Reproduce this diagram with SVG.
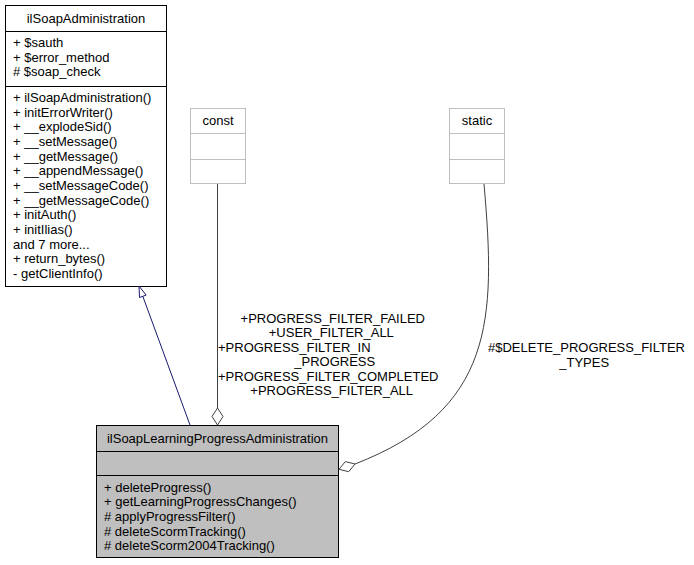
<svg xmlns="http://www.w3.org/2000/svg" width="694" height="565" viewBox="0 0 694 565">
<style>
text{font-family:"Liberation Sans",Arial,Helvetica,sans-serif;font-size:13px;fill:#000}
.c{text-anchor:middle}
.box{fill:#fff;stroke:#000;stroke-width:1}
.gbox{fill:#fff;stroke:#bfbfbf;stroke-width:1}
.main{fill:#bfbfbf;stroke:#000;stroke-width:1}
.use{fill:none;stroke:#404040;stroke-width:1}
.dia{fill:#fff;stroke:#404040;stroke-width:1}
.inh{fill:none;stroke:#191970;stroke-width:1}
</style>
<rect width="694" height="565" fill="#fff"/>
<g id="ilSoapAdministration">
<rect class="box" x="5.5" y="5.5" width="161" height="281"/>
<line x1="5.5" y1="31.5" x2="166.5" y2="31.5" stroke="#000"/>
<line x1="5.5" y1="86.5" x2="166.5" y2="86.5" stroke="#000"/>
<text class="c" x="86" y="22.5">ilSoapAdministration</text>
<text x="13" y="47">+ $sauth</text>
<text x="13" y="61.5">+ $error_method</text>
<text x="13" y="76">#  $soap_check</text>
<text x="13" y="102">+ ilSoapAdministration()</text>
<text x="13" y="116.7">+ initErrorWriter()</text>
<text x="13" y="131.3">+ __explodeSid()</text>
<text x="13" y="146">+ __setMessage()</text>
<text x="13" y="160.7">+ __getMessage()</text>
<text x="13" y="175.3">+ __appendMessage()</text>
<text x="13" y="190">+ __setMessageCode()</text>
<text x="13" y="204.7">+ __getMessageCode()</text>
<text x="13" y="219.3">+ initAuth()</text>
<text x="13" y="234">+ initIlias()</text>
<text x="13" y="248.7">and 7 more...</text>
<text x="13" y="263.3">+ return_bytes()</text>
<text x="13" y="278">- getClientInfo()</text>
</g>
<g id="const">
<rect class="gbox" x="190.5" y="108.5" width="55" height="75"/>
<line x1="190.5" y1="133.5" x2="245.5" y2="133.5" stroke="#bfbfbf"/>
<line x1="190.5" y1="159.5" x2="245.5" y2="159.5" stroke="#bfbfbf"/>
<text class="c" x="218" y="125">const</text>
</g>
<g id="static">
<rect class="gbox" x="449.5" y="108.5" width="55" height="75"/>
<line x1="449.5" y1="133.5" x2="504.5" y2="133.5" stroke="#bfbfbf"/>
<line x1="449.5" y1="159.5" x2="504.5" y2="159.5" stroke="#bfbfbf"/>
<text class="c" x="477" y="125">static</text>
</g>
<g id="ilSoapLearningProgressAdministration">
<rect class="main" x="96.5" y="425.5" width="242" height="132"/>
<line x1="96.5" y1="451.5" x2="338.5" y2="451.5" stroke="#000"/>
<line x1="96.5" y1="475.5" x2="338.5" y2="475.5" stroke="#000"/>
<text class="c" x="217.5" y="442.5">ilSoapLearningProgressAdministration</text>
<text x="104" y="491.7">+ deleteProgress()</text>
<text x="104" y="506.4">+ getLearningProgressChanges()</text>
<text x="104" y="521">#  applyProgressFilter()</text>
<text x="104" y="535.7">#  deleteScormTracking()</text>
<text x="104" y="550.4">#  deleteScorm2004Tracking()</text>
</g>
<g id="connectors">
<path class="inh" d="M190,425 L142.8,296.3"/>
<polygon class="inh" fill="#fff" points="139,286 146.1,295.1 139.5,297.5"/>
<path class="use" d="M217.5,184 V408"/>
<polygon class="dia" points="217.5,408 223,416.5 217.5,425 212,416.5"/>
<path class="use" d="M484,184 C496,320 494,410 355,464"/>
<polygon class="dia" points="355,464 345.3,461.6 339,469.3 348.7,471.7"/>
<text class="c" x="332.8" y="323.3">+PROGRESS_FILTER_FAILED</text>
<text class="c" x="331.3" y="336.7">+USER_FILTER_ALL</text>
<text x="218" y="351.5">+PROGRESS_FILTER_IN</text>
<text class="c" x="334.7" y="366">_PROGRESS</text>
<text x="218" y="380.5">+PROGRESS_FILTER_COMPLETED</text>
<text class="c" x="331.7" y="395">+PROGRESS_FILTER_ALL</text>
<text class="c" x="586.5" y="352.3">#$DELETE_PROGRESS_FILTER</text>
<text class="c" x="584.2" y="366.7">_TYPES</text>
</g>
</svg>
